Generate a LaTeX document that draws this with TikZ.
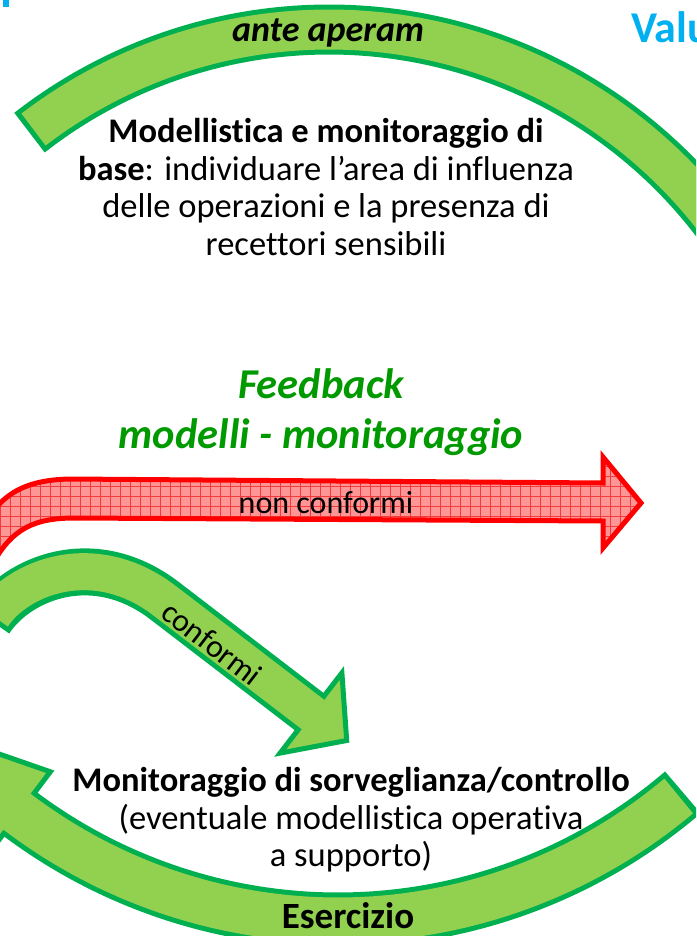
\documentclass[tikz,border=0pt]{standalone}
\usepackage{fontspec}
\setmainfont[Ligatures={TeX,NoCommon}]{Carlito}
\usetikzlibrary{patterns.meta}
\definecolor{lgreen}{HTML}{92D050}
\definecolor{dgreen}{HTML}{00B050}
\definecolor{fbgreen}{HTML}{009A00}
\definecolor{vblue}{HTML}{00B0F0}
\definecolor{rpink}{RGB}{255,150,150}
\definecolor{gridred}{RGB}{240,60,60}
\begin{document}
\begin{tikzpicture}[x=1pt,y=-1pt,
  txt/.style={font=\fontsize{34.5}{37.5}\selectfont, align=center, inner sep=0pt},
  smalltxt/.style={font=\fontsize{32}{36}\selectfont, inner sep=0pt},
  fbtxt/.style={font=\fontsize{42.5}{50}\selectfont\bfseries\itshape, text=fbgreen, align=center, inner sep=0pt},
  bandborder/.style={draw=dgreen, line join=round},
  bandfill/.style={draw=lgreen, line join=round},
  headstyle/.style={draw=dgreen, fill=lgreen, line width=5pt, line join=miter}]
\useasboundingbox (0,0) rectangle (696,936);
\clip (0,0) rectangle (696,936);

% blue fragment top-left
\fill[vblue] (3,0) rectangle (9,7);

% ---- top band (ante aperam)
\draw[bandborder, line width=50pt] plot[domain=232:335, samples=140] ({329+486.5*cos(\x)},{516+486.5*sin(\x)});
\draw[bandfill, line width=40pt] plot[domain=232.6:335, samples=140] ({329+486.5*cos(\x)},{516+486.5*sin(\x)});

% ---- red arrow (non conformi)
\path[preaction={fill=rpink},
      preaction={pattern={Lines[angle=0,distance=10pt,line width=0.8pt]}, pattern color=gridred},
      preaction={pattern={Lines[angle=90,distance=10pt,line width=0.8pt]}, pattern color=gridred},
      draw=red, line width=5pt, line join=miter]
  (-25,548) .. controls (-8,497) and (20,480) .. (70,479) -- (603,483) -- (603,457) -- (641,503)
  -- (603,548) -- (603,521) -- (75,518) .. controls (35,518) and (12,528) .. (-8,565) -- cycle;

% ---- green arrow (conformi)
\coordinate (cT) at (-10,620);
\coordinate (cJ) at (165,601);
\coordinate (cB) at (311,713);
\coordinate (cBx) at (313.4,714.8);
\draw[bandborder, line width=47pt] (cT) .. controls (17.5,578.5) and (93.6,546) .. (cJ) -- (cB);
\draw[headstyle] (341.9,672.9) -- (346.7,740.5) -- (280.1,753.1) -- cycle;
\draw[bandfill, line width=37pt, shorten <=5pt] (cT) .. controls (17.5,578.5) and (93.6,546) .. (cJ) -- (cBx);

% ---- bottom band (esercizio)
\draw[bandborder, line width=55pt] plot[domain=49.4:127, samples=120] ({338+530*cos(\x)},{390+530*sin(\x)});
\draw[headstyle] ({338+478*cos(127)},{390+478*sin(127)}) -- ({338+530*cos(140)},{390+530*sin(140)})
  -- ({338+582*cos(127)},{390+582*sin(127)}) -- cycle;
\draw[bandfill, line width=45pt] plot[domain=50:128, samples=120] ({338+530*cos(\x)},{390+530*sin(\x)});

% ---- texts
\node[txt, font=\fontsize{36}{40}\selectfont] (ante) at (328,33) {\textbf{\textit{ante aperam}}};
\node[anchor=west, text=vblue, font=\fontsize{44}{50}\selectfont\bfseries, inner sep=0pt] (val) at (631,27) {Valu};
\node[txt] (mb) at (326,187) {\textbf{Modellistica e monitoraggio di}\\\textbf{base}: individuare l’area di influenza\\delle operazioni e la presenza di\\recettori sensibili};
\node[fbtxt] (fb) at (321,412) {Feedback\\modelli - monitoraggio};
\node[smalltxt] (nc) at (326,503) {non conformi};
\node[smalltxt, rotate=-37.6] (cf) at (212,643) {conformi};
\node[txt] (ms) at (351,820) {\textbf{Monitoraggio di sorveglianza/controllo}\\(eventuale modellistica operativa\\a supporto)};
\node[txt, font=\fontsize{37}{40}\selectfont] (es) at (348,916) {\textbf{Esercizio}};
\end{tikzpicture}
\end{document}
